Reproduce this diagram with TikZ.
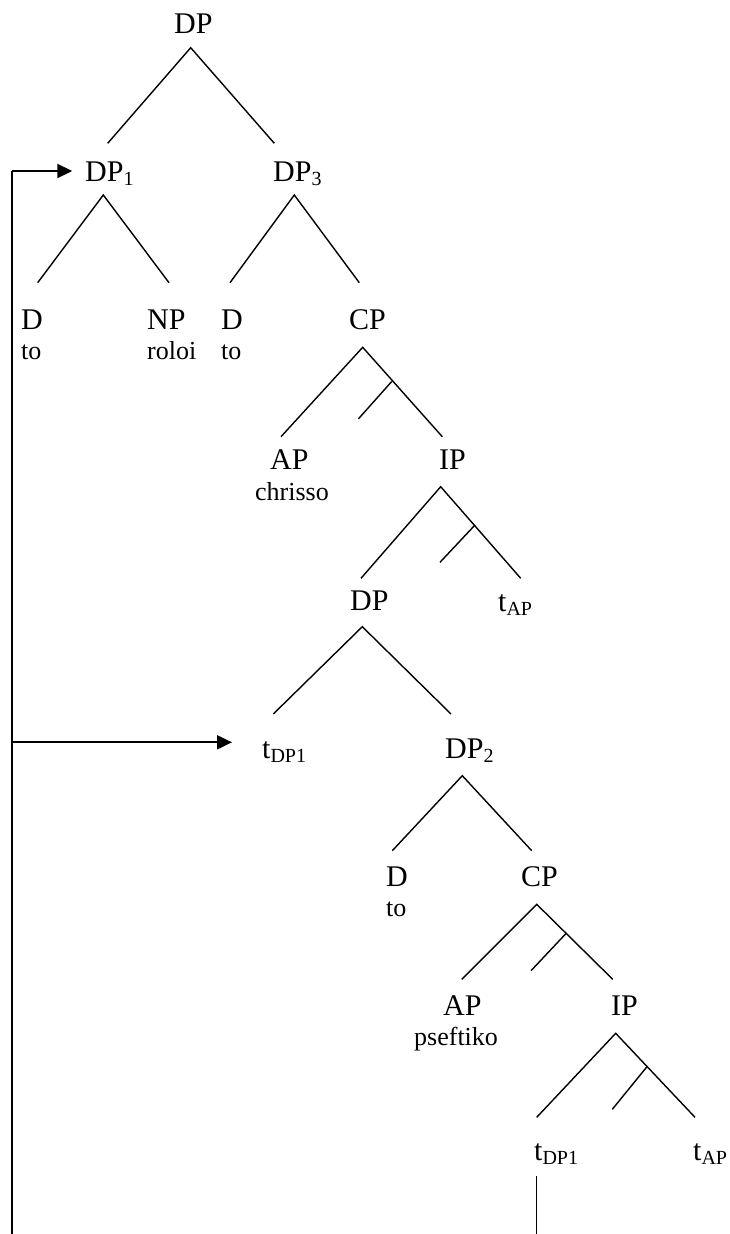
\documentclass[tikz,border=0pt]{standalone}
\usepackage{fontspec}
\setmainfont{Liberation Serif}
\usetikzlibrary{arrows.meta}
\newcommand\Sb[1]{\raisebox{-4pt}{\fontsize{20}{24}\selectfont #1}}
\tikzset{
  lab/.style={anchor=base west, inner sep=0pt, font=\fontsize{30}{36}\selectfont},
  wrd/.style={anchor=base west, inner sep=0pt, font=\fontsize{26}{30}\selectfont},
  edge/.style={line width=1.4pt},
  mov/.style={line width=2pt},
  movarr/.style={line width=2pt, -{Triangle[length=15pt,width=14pt]}}
}
\begin{document}
\begin{tikzpicture}[x=1pt,y=-1pt]
\useasboundingbox (0,0) rectangle (730,1234);
% nodes
\node[lab] (dp0) at (174,33.3) {DP};
\node[lab] (dp1) at (85,181.5) {DP\Sb{1}};
\node[lab] (dp3) at (273,181.5) {DP\Sb{3}};
\node[lab] (d1) at (21,329) {D};
\node[wrd] (to1) at (21,359) {to};
\node[lab] (np) at (147,329) {NP};
\node[wrd] (roloi) at (147,359) {roloi};
\node[lab] (d2) at (221,329) {D};
\node[wrd] (to2) at (221,359) {to};
\node[lab] (cp1) at (349,329) {CP};
\node[lab] (ap1) at (270,469) {AP};
\node[wrd] (chrisso) at (255,500.5) {chrisso};
\node[lab] (ip1) at (439,469) {IP};
\node[lab] (dpm) at (350,610.5) {DP};
\node[lab] (tap1) at (498,611) {t\Sb{AP}};
\node[lab] (tdp1) at (262,758) {t\Sb{DP1}};
\node[lab] (dp2) at (445,758) {DP\Sb{2}};
\node[lab] (d3) at (386,886.5) {D};
\node[wrd] (to3) at (386,916.5) {to};
\node[lab] (cp2) at (521,886.5) {CP};
\node[lab] (ap2) at (443,1015) {AP};
\node[wrd] (pseftiko) at (414,1045.5) {pseftiko};
\node[lab] (ip2) at (611,1015) {IP};
\node[lab] (tdp2) at (534,1160) {t\Sb{DP1}};
\node[lab] (tap2) at (693,1160) {t\Sb{AP}};
% branch coordinates
\coordinate (a0) at (190.7,47.7);
\coordinate (a0l) at (107.7,143.3);
\coordinate (a0r) at (274.3,143.3);
\coordinate (a1) at (103.3,195);
\coordinate (a1l) at (37.7,282.7);
\coordinate (a1r) at (169,282.7);
\coordinate (a3) at (294.3,195);
\coordinate (a3l) at (230,282.7);
\coordinate (a3r) at (359.3,282.7);
\coordinate (c1) at (362.7,347.3);
\coordinate (c1l) at (281,436.7);
\coordinate (c1r) at (442.3,436.7);
\coordinate (c1b) at (391.7,381.5);
\coordinate (c1e) at (358.3,419);
\coordinate (i1) at (440.7,486.7);
\coordinate (i1l) at (361,578.3);
\coordinate (i1r) at (520.7,578.3);
\coordinate (i1b) at (475,525);
\coordinate (i1e) at (440,562.3);
\coordinate (m) at (362.3,626.7);
\coordinate (ml) at (273.3,714);
\coordinate (mr) at (451,714);
\coordinate (e2) at (462.3,775.7);
\coordinate (e2l) at (392.3,850.7);
\coordinate (e2r) at (531.7,850.7);
\coordinate (c2) at (536.7,904.3);
\coordinate (c2l) at (461.7,979.3);
\coordinate (c2r) at (612.7,979.3);
\coordinate (c2b) at (566,933.5);
\coordinate (c2e) at (531,970.7);
\coordinate (i2) at (615.7,1033.3);
\coordinate (i2l) at (536.7,1117.3);
\coordinate (i2r) at (695,1117.3);
\coordinate (i2b) at (646.7,1067);
\coordinate (i2e) at (612.3,1109.3);
\coordinate (tr) at (536.7,1175.7);
\coordinate (trb) at (536.7,1234);
% movement path coordinates
\coordinate (lb) at (12,1234);
\coordinate (lt) at (12,171);
\coordinate (tip1) at (72.3,171);
\coordinate (lm) at (12,742.3);
\coordinate (tip2) at (232,742.3);
% edges
\draw[edge] (a0l) -- (a0) -- (a0r);
\draw[edge] (a1l) -- (a1) -- (a1r);
\draw[edge] (a3l) -- (a3) -- (a3r);
\draw[edge] (c1l) -- (c1) -- (c1r);
\draw[edge] (c1b) -- (c1e);
\draw[edge] (i1l) -- (i1) -- (i1r);
\draw[edge] (i1b) -- (i1e);
\draw[edge] (ml) -- (m) -- (mr);
\draw[edge] (e2l) -- (e2) -- (e2r);
\draw[edge] (c2l) -- (c2) -- (c2r);
\draw[edge] (c2b) -- (c2e);
\draw[edge] (i2l) -- (i2) -- (i2r);
\draw[edge] (i2b) -- (i2e);
\draw[edge] (tr) -- (trb);
% movement arrows
\draw[mov] (lb) -- (lt);
\draw[movarr] (lt) -- (tip1);
\draw[movarr] (lm) -- (tip2);
\end{tikzpicture}
\end{document}
